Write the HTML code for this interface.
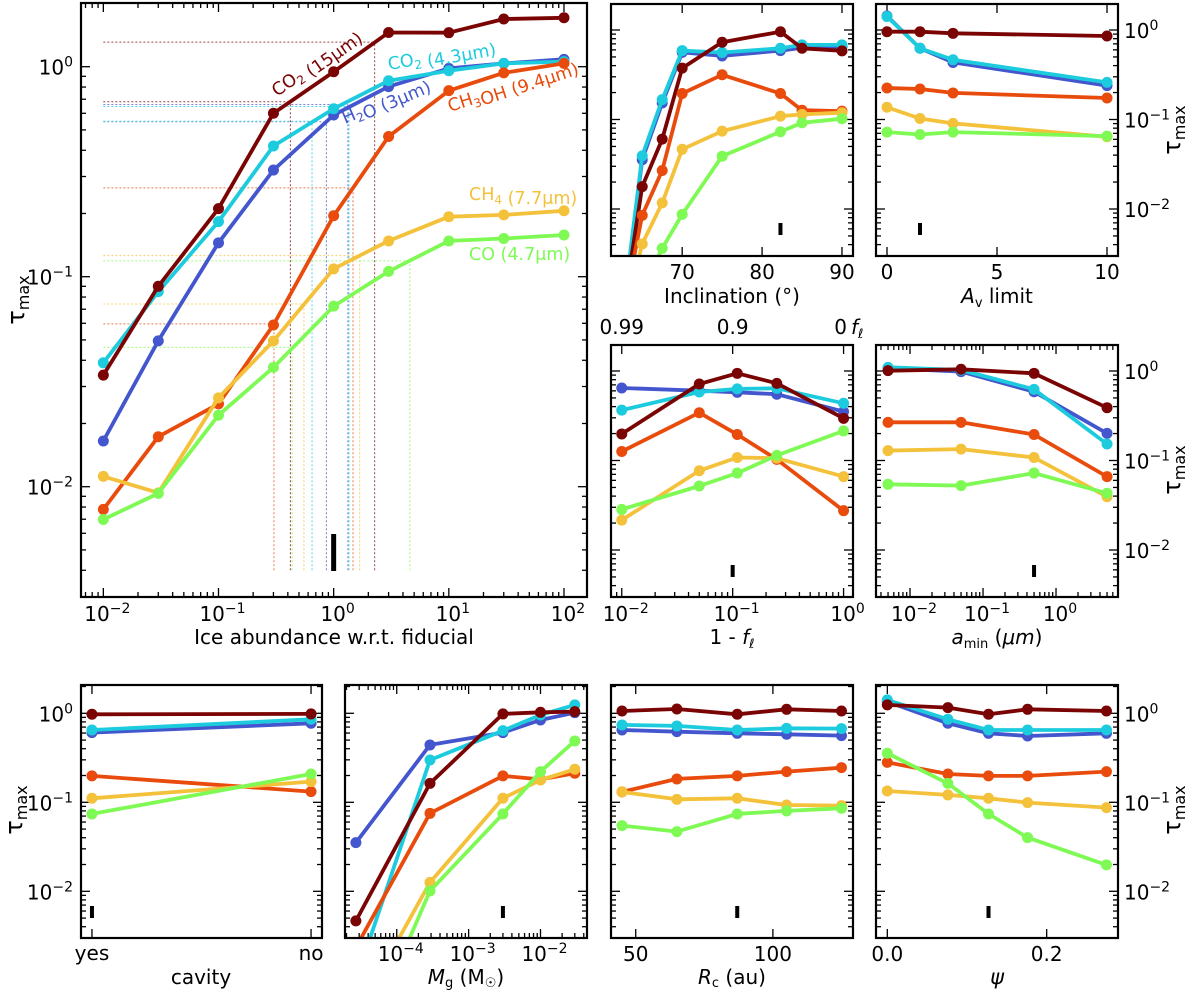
<!DOCTYPE html>
<html><head><meta charset="utf-8"><style>
html,body{margin:0;padding:0;background:#fff;overflow:hidden;width:1200px;height:995px}
svg{display:block;font-family:"DejaVu Sans","Liberation Sans",sans-serif;overflow:hidden}
</style></head><body>
<svg id="fig" width="1200" height="995" viewBox="0 0 1200 995" xmlns="http://www.w3.org/2000/svg"><defs id="defs"></defs></svg>
<script>
// ---------- data ----------
const speciesNames = ['H2O','CO2_4.3','CO2_15','CH3OH','CH4','CO'];
const speciesColors = ['#4356cd','#1ccbdd','#7a0403','#e84b0c','#f4c13b','#7ffa55'];

const mainX = [0.01,0.03,0.1,0.3,1,3,10,30,100];
const mainH2O = [0.0165,0.0495,0.145,0.322,0.589,0.804,0.982,1.037,1.084];
const mainCO2a = [0.0389,0.0849,0.183,0.419,0.631,0.857,0.957,1.037,1.057];
const mainCO2b = [0.034,0.090,0.211,0.600,0.946,1.455,1.452,1.687,1.710];
const mainCH3OH = [0.0078,0.0173,0.0248,0.0589,0.195,0.465,0.769,0.935,1.037];
const mainCH4 = [0.0112,0.00935,0.0265,0.0494,0.109,0.148,0.193,0.197,0.206];
const mainCO = [0.00698,0.00929,0.0219,0.037,0.0724,0.106,0.148,0.152,0.158];
const guideLowX = [0.865,0.649,0.421,0.303,0.552,0.435];
const guideLowTau = [0.547,0.55,0.681,0.0596,0.0741,0.0461];
const guideHighX = [1.33,1.358,2.27,1.472,1.683,4.59];
const guideHighTau = [0.661,0.646,1.309,0.265,0.126,0.119];

const inclX = [62.5,65,67.5,70,75,82.3,85,90];
const inclH2O = [0.00063,0.0355,0.153,0.562,0.513,0.589,0.631,0.646];
const inclCO2a = [0.00063,0.0392,0.167,0.589,0.56,0.625,0.681,0.681];
const inclCO2b = [0.00063,0.0178,0.0603,0.375,0.73,0.957,0.625,0.585];
const inclCH3OH = [0.00063,0.0085,0.0269,0.195,0.316,0.195,0.127,0.124];
const inclCH4 = [0.0005,0.00407,0.0117,0.0465,0.0741,0.109,0.114,0.119];
const inclCO = [0.0001,0.00126,0.00363,0.0087,0.0389,0.073,0.0918,0.102];

const avX = [0,1.5,3,10];
const avH2O = [1.432,0.625,0.434,0.239];
const avCO2a = [1.413,0.625,0.465,0.26];
const avCO2b = [0.957,0.957,0.918,0.857];
const avCH3OH = [0.225,0.219,0.198,0.174];
const avCH4 = [0.137,0.1026,0.0904,0.0641];
const avCO = [0.0723,0.068,0.0723,0.0653];

const flX = [0.01,0.05,0.11,0.25,1];
const flH2O = [0.646,0.603,0.578,0.55,0.352];
const flCO2a = [0.366,0.582,0.631,0.64,0.436];
const flCO2b = [0.198,0.716,0.942,0.728,0.296];
const flCH3OH = [0.126,0.342,0.195,0.103,0.0275];
const flCH4 = [0.0216,0.0769,0.108,0.106,0.0661];
const flCO = [0.0284,0.0519,0.0724,0.114,0.214];

const aminX = [0.005,0.05,0.5,5];
const aminH2O = [1.072,0.984,0.587,0.201];
const aminCO2a = [1.099,1.026,0.624,0.153];
const aminCO2b = [1.009,1.045,0.942,0.389];
const aminCH3OH = [0.267,0.267,0.195,0.0661];
const aminCH4 = [0.129,0.134,0.108,0.0394];
const aminCO = [0.0542,0.0524,0.0724,0.043];

const cavX = [0,1];
const cavLabels = ['yes','no'];
const cavH2O = [0.607,0.773];
const cavCO2a = [0.65,0.857];
const cavCO2b = [0.975,0.984];
const cavCH3OH = [0.198,0.132];
const cavCH4 = [0.111,0.171];
const cavCO = [0.074,0.208];

const mgX = [2.7e-5,2.9e-4,3e-3,0.01,0.03];
const mgH2O = [0.0352,0.441,0.607,0.841,1.016];
const mgCO2a = [0.001,0.299,0.638,0.957,1.242];
const mgCO2b = [0.00465,0.163,0.984,1.026,1.045];
const mgCH3OH = [0.00234,0.0752,0.198,0.181,0.212];
const mgCH4 = [0.0004,0.0126,0.111,0.178,0.235];
const mgCO = [0.000117,0.0101,0.074,0.221,0.489];

const rcX = [45,65,87,105,125];
const rcH2O = [0.65,0.622,0.596,0.581,0.561];
const rcCO2a = [0.74,0.721,0.65,0.678,0.673];
const rcCO2b = [1.062,1.119,0.975,1.109,1.062];
const rcCH3OH = [0.131,0.183,0.198,0.221,0.245];
const rcCH4 = [0.131,0.108,0.111,0.0933,0.0918];
const rcCO = [0.0547,0.0468,0.074,0.08,0.0857];

const psiX = [0,0.076,0.127,0.176,0.275];
const psiH2O = [1.352,0.773,0.596,0.556,0.596];
const psiCO2a = [1.413,0.857,0.65,0.65,0.65];
const psiCO2b = [1.242,1.159,0.975,1.109,1.062];
const psiCH3OH = [0.281,0.208,0.198,0.198,0.221];
const psiCH4 = [0.134,0.121,0.111,0.0991,0.0871];
const psiCO = [0.356,0.163,0.074,0.0401,0.0198];

const fiducial = {main:1, incl:82.3, av:1.5, fl:0.1, amin:0.5, cav:0, mg:3e-3, rc:87, psi:0.127};

// ---------- helpers ----------
const NS='http://www.w3.org/2000/svg';
const svg=document.getElementById('fig');
const defs=document.getElementById('defs');
const TFS=20, SFS=14, AFS=20;
function mk(tag, attrs, parent){
  const e=document.createElementNS(NS,tag);
  for(const k in attrs) e.setAttribute(k,attrs[k]);
  (parent||svg).appendChild(e);
  return e;
}
function supText(parent,x,y,base,exp,anchor,fs,name){
  const t=mk('text',{x:x,y:y,'text-anchor':anchor||'middle','font-size':fs||TFS,fill:'#000'},parent);
  
  
  t.appendChild(document.createTextNode(base));
  const s=mk('tspan',{dy:-8,'font-size':SFS},t);
  s.textContent=exp;
  return t;
}
function plainText(parent,x,y,str,anchor,fs,name){
  const t=mk('text',{x:x,y:y,'text-anchor':anchor||'middle','font-size':fs||TFS,fill:'#000'},parent);
  
  
  t.textContent=str;
  return t;
}
function tauLabel(x,y,name){
  const t=mk('text',{x:0,y:0,'text-anchor':'middle','font-size':24,fill:'#000',transform:'translate('+x+','+y+') rotate(-90)'});
  
  
  t.appendChild(document.createTextNode('τ'));
  const s=mk('tspan',{dy:5,'font-size':16},t);
  s.textContent='max';
}
let clipId=0;
function makePanel(p){
  p.g=mk('g',{});
  
  
  p.sx = v => p.xlog ? p.L+(Math.log10(v)-p.xmin)/(p.xmax-p.xmin)*(p.R-p.L) : p.L+(v-p.xmin)/(p.xmax-p.xmin)*(p.R-p.L);
  p.sy = v => p.y0 - Math.log10(v)*p.dec;
  const cp=mk('clipPath',{id:'cp'+(++clipId)},defs);
  mk('rect',{x:p.L,y:p.T,width:p.R-p.L,height:p.B-p.T},cp);
  p.clip='url(#cp'+clipId+')';
  const tg=mk('g',{stroke:'#000','stroke-width':1.3},p.g);
  
  
  for(let d=-5; d<=1; d++){
    for(let m=1;m<=9;m++){
      const y=p.sy(m*Math.pow(10,d));
      if(y<=p.T+1||y>=p.B-1) continue;
      const len=m===1?9:5;
      mk('line',{x1:p.L,x2:p.L+len,y1:y,y2:y},tg);
      mk('line',{x1:p.R,x2:p.R-len,y1:y,y2:y},tg);
    }
  }
  const xt=[];
  if(p.xlog){
    for(let d=Math.floor(p.xmin)-1; d<=Math.ceil(p.xmax); d++){
      for(let m=1;m<=9;m++){
        const v=m*Math.pow(10,d);
        const lv=Math.log10(v);
        if(lv<=p.xmin||lv>=p.xmax) continue;
        xt.push([p.sx(v), m===1?9:5]);
      }
    }
  } else {
    p.xticks.forEach(v=>xt.push([p.sx(v),9]));
  }
  xt.forEach(([x,len])=>{
    mk('line',{x1:x,x2:x,y1:p.B,y2:p.B-len},tg);
    if(!p.topTicks) mk('line',{x1:x,x2:x,y1:p.T,y2:p.T+len},tg);
  });
  if(p.topTicks){
    p.topTicks.forEach(v=>{ const x=p.sx(v); mk('line',{x1:x,x2:x,y1:p.T,y2:p.T+9},tg); });
  }
  return p;
}
function frame(p){
  const r=mk('rect',{x:p.L,y:p.T,width:p.R-p.L,height:p.B-p.T,fill:'none',stroke:'#000','stroke-width':2.2},p.g);
  
  
}
// clip polyline points to the panel's vertical range
function clipPts(p,pts){
  const out=[];
  for(let i=0;i<pts.length-1;i++){
    let [x1,y1]=pts[i], [x2,y2]=pts[i+1];
    const lo=p.T, hi=p.B;
    if((y1>hi&&y2>hi)||(y1<lo&&y2<lo)) continue;
    const cut=(xa,ya,xb,yb,yc)=>[xa+(xb-xa)*(yc-ya)/(yb-ya),yc];
    if(y1>hi) [x1,y1]=cut(x1,y1,x2,y2,hi);
    if(y2>hi) [x2,y2]=cut(x1,y1,x2,y2,hi);
    if(y1<lo) [x1,y1]=cut(x1,y1,x2,y2,lo);
    if(y2<lo) [x2,y2]=cut(x1,y1,x2,y2,lo);
    const last=out[out.length-1];
    if(!last||Math.abs(last[0]-x1)>0.01||Math.abs(last[1]-y1)>0.01) out.push([x1,y1]);
    out.push([x2,y2]);
  }
  return out;
}
function series(p,xs,ys,ci){
  const g=mk('g',{'clip-path':p.clip},p.g);
  
  
  const raw=xs.map((x,i)=>[p.sx(x),p.sy(ys[i])]);
  const pts=clipPts(p,raw).map(q=>q[0].toFixed(1)+','+q[1].toFixed(1)).join(' ');
  const pl=mk('polyline',{points:pts,fill:'none',stroke:speciesColors[ci],'stroke-width':3.8,'stroke-linejoin':'round'},g);
  
  
  xs.forEach((x,i)=>{
    const cy=p.sy(ys[i]);
    if(cy>p.B+6||cy<p.T-6) return;
    const c=mk('circle',{cx:p.sx(x),cy:cy,r:5.5,fill:speciesColors[ci]},g);
    
    
  });
}
function fidMark(p,v,top,bot,w){
  const x=p.sx(v);
  const r=mk('rect',{x:x-(w||4)/2,y:p.B-top,width:w||4,height:top-bot,fill:'#000'},p.g);
  
  
}
function yLabelsLog(p,x,anchor){
  [0,-1,-2].forEach(e=>{
    supText(p.g,x,p.sy(Math.pow(10,e))+8,'10',e===0?'0':'−'+(-e),anchor,TFS,p.name+'-ytick-label');
  });
}
function xLabelsLog(p,y,exps){
  exps.forEach(e=>{
    supText(p.g,p.sx(Math.pow(10,e))+4,y,'10',e===0?'0':(e<0?'−'+(-e):String(e)),'middle',TFS,p.name+'-xtick-label');
  });
}
function xLabelsLin(p,y,vals,labs){
  vals.forEach((v,i)=>plainText(p.g,p.sx(v),y,labs[i],'middle',TFS,p.name+'-xtick-label'));
}
function allSeries(p,xs,arrs){ arrs.forEach((a,i)=>series(p,xs,a,i)); }

// ---------- main panel ----------
const main=makePanel({name:'main-panel',L:81,R:587,T:3,B:597,xlog:true,xmin:-2.194,xmax:2.2,y0:66.7,dec:210});
const gg=mk('g',{'stroke-width':1,'stroke-dasharray':'2,2',opacity:0.75,fill:'none','clip-path':main.clip},main.g);


[[guideLowX,guideLowTau],[guideHighX,guideHighTau]].forEach(([gx,gt])=>{
  gx.forEach((xv,i)=>{
    const h=mk('line',{x1:main.sx(0.01),x2:main.sx(xv),y1:main.sy(gt[i]),y2:main.sy(gt[i]),stroke:speciesColors[i]},gg);
    
    
    const v=mk('line',{x1:main.sx(xv),x2:main.sx(xv),y1:main.sy(0.004),y2:main.sy(gt[i]),stroke:speciesColors[i]},gg);
    
    
  });
});
allSeries(main,mainX,[mainH2O,mainCO2a,mainCO2b,mainCH3OH,mainCH4,mainCO]);
fidMark(main,fiducial.main,63,26,5);
frame(main);
yLabelsLog(main,73,'end');
xLabelsLog(main,621,[-2,-1,0,1,2]);
plainText(main.g,334,644,'Ice abundance w.r.t. fiducial','middle',AFS,'main-x-axis-title');
tauLabel(24,300,'main-y-axis-title');
function specLabel(x,y,rot,col,parts,name){
  const t=mk('text',{x:0,y:0,'font-size':17.5,fill:col,transform:'translate('+x+','+y+') rotate('+rot+')'},main.g);
  
  
  parts.forEach(([s,sub])=>{
    const ts=mk('tspan',sub?{'font-size':12,dy:4}:{dy:0},t);
    ts.textContent=s;
    if(sub){ const r=mk('tspan',{dy:-4},t); r.textContent=''; }
  });
}
specLabel(277,97,-35,speciesColors[2],[['CO'],['2',1],[' (15μm)']],'label-co2-15');
specLabel(389,70,-10,speciesColors[1],[['CO'],['2',1],[' (4.3μm)']],'label-co2-43');
specLabel(345,124,-23,speciesColors[0],[['H'],['2',1],['O (3μm)']],'label-h2o');
specLabel(450,112,-18,speciesColors[3],[['CH'],['3',1],['OH (9.4μm)']],'label-ch3oh');
specLabel(469,200,0,speciesColors[4],[['CH'],['4',1],[' (7.7μm)']],'label-ch4');
specLabel(469,260,0,speciesColors[5],[['CO (4.7μm)']],'label-co');

// ---------- inclination ----------
const incl=makePanel({name:'inclination-panel',L:611,R:853,T:4,B:256,xlog:false,xmin:61.09,xmax:91.38,y0:30,dec:89.5,xticks:[70,80,90]});
allSeries(incl,inclX,[inclH2O,inclCO2a,inclCO2b,inclCH3OH,inclCH4,inclCO]);
fidMark(incl,fiducial.incl,33,21);
frame(incl);
xLabelsLin(incl,279,[70,80,90],['70','80','90']);
plainText(incl.g,732,303,'Inclination (°)','middle',AFS,'inclination-x-axis-title');

// ---------- Av ----------
const av=makePanel({name:'av-panel',L:876,R:1118,T:4,B:256,xlog:false,xmin:-0.5,xmax:10.5,y0:30,dec:89.5,xticks:[0,5,10]});
allSeries(av,avX,[avH2O,avCO2a,avCO2b,avCH3OH,avCH4,avCO]);
fidMark(av,fiducial.av,33,21);
frame(av);
xLabelsLin(av,279,[0,5,10],['0','5','10']);
yLabelsLog(av,1124,'start');
(function(){const t=mk('text',{x:997,y:303,'text-anchor':'middle','font-size':AFS},av.g);


const a=mk('tspan',{'font-style':'italic'},t); a.textContent='A';
const b=mk('tspan',{'font-size':13,dy:4},t); b.textContent='v';
const c=mk('tspan',{dy:-4},t); c.textContent=' limit';})();
tauLabel(1180,130,'av-y-axis-title');

// ---------- f_l ----------
const fl=makePanel({name:'fl-panel',L:611,R:853,T:345,B:597,xlog:true,xmin:-2.097,xmax:0.085,y0:371,dec:89.5,topTicks:[0.01,0.1,1]});
allSeries(fl,flX,[flH2O,flCO2a,flCO2b,flCH3OH,flCH4,flCO]);
fidMark(fl,fiducial.fl,32,20);
frame(fl);
xLabelsLog(fl,621,[-2,-1,0]);
plainText(fl.g,fl.sx(0.01),334,'0.99','middle',TFS,'fl-top-tick-label');
plainText(fl.g,fl.sx(0.1),334,'0.9','middle',TFS,'fl-top-tick-label');
plainText(fl.g,fl.sx(1)-3,334,'0','middle',TFS,'fl-top-tick-label');
(function(){const t=mk('text',{x:851,y:334,'font-size':AFS,'font-style':'italic'},fl.g);


t.appendChild(document.createTextNode('f'));
const s=mk('tspan',{'font-size':13,dy:4},t); s.textContent='ℓ';})();
(function(){const t=mk('text',{x:732,y:644,'text-anchor':'middle','font-size':AFS},fl.g);


t.appendChild(document.createTextNode('1 - '));
const a=mk('tspan',{'font-style':'italic'},t); a.textContent='f';
const b=mk('tspan',{'font-size':13,dy:4,'font-style':'italic'},t); b.textContent='ℓ';})();

// ---------- a_min ----------
const amin=makePanel({name:'amin-panel',L:876,R:1118,T:345,B:597,xlog:true,xmin:-2.466,xmax:0.849,y0:371,dec:89.5});
allSeries(amin,aminX,[aminH2O,aminCO2a,aminCO2b,aminCH3OH,aminCH4,aminCO]);
fidMark(amin,fiducial.amin,32,20);
frame(amin);
xLabelsLog(amin,621,[-2,-1,0]);
yLabelsLog(amin,1124,'start');
(function(){const t=mk('text',{x:997,y:644,'text-anchor':'middle','font-size':AFS},amin.g);


const a=mk('tspan',{'font-style':'italic'},t); a.textContent='a';
const b=mk('tspan',{'font-size':13,dy:4},t); b.textContent='min';
const c=mk('tspan',{dy:-4},t); c.textContent=' (';
const d=mk('tspan',{'font-style':'italic'},t); d.textContent='μm';
const e=mk('tspan',{},t); e.textContent=')';})();
tauLabel(1180,470,'amin-y-axis-title');

// ---------- cavity ----------
const cav=makePanel({name:'cavity-panel',L:81,R:322,T:685,B:938,xlog:false,xmin:-0.05,xmax:1.05,y0:713.3,dec:89,xticks:[0,1]});
allSeries(cav,cavX,[cavH2O,cavCO2a,cavCO2b,cavCH3OH,cavCH4,cavCO]);
fidMark(cav,fiducial.cav,32,20);
frame(cav);
xLabelsLin(cav,960,cavX,cavLabels);
yLabelsLog(cav,73,'end');
plainText(cav.g,201,984,'cavity','middle',AFS,'cavity-x-axis-title');
tauLabel(22,810,'cavity-y-axis-title');

// ---------- Mg ----------
const mg=makePanel({name:'mg-panel',L:345,R:587,T:685,B:938,xlog:true,xmin:-4.72,xmax:-1.353,y0:713.3,dec:89});
allSeries(mg,mgX,[mgH2O,mgCO2a,mgCO2b,mgCH3OH,mgCH4,mgCO]);
fidMark(mg,fiducial.mg,32,20);
frame(mg);
xLabelsLog(mg,961,[-4,-3,-2]);
(function(){const t=mk('text',{x:466,y:984,'text-anchor':'middle','font-size':AFS},mg.g);


const a=mk('tspan',{'font-style':'italic'},t); a.textContent='M';
const b=mk('tspan',{'font-size':13,dy:3},t); b.textContent='g';
const c=mk('tspan',{dy:-3},t); c.textContent=' (M';
const d=mk('tspan',{'font-size':13,dy:3},t); d.textContent='☉';
const e=mk('tspan',{dy:-3},t); e.textContent=')';})();

// ---------- Rc ----------
const rc=makePanel({name:'rc-panel',L:611,R:853,T:685,B:938,xlog:false,xmin:40.99,xmax:129.2,y0:713.3,dec:89,xticks:[50,100]});
allSeries(rc,rcX,[rcH2O,rcCO2a,rcCO2b,rcCH3OH,rcCH4,rcCO]);
fidMark(rc,fiducial.rc,32,20);
frame(rc);
xLabelsLin(rc,961,[50,100],['50','100']);
(function(){const t=mk('text',{x:732,y:984,'text-anchor':'middle','font-size':AFS},rc.g);


const a=mk('tspan',{'font-style':'italic'},t); a.textContent='R';
const b=mk('tspan',{'font-size':13,dy:3},t); b.textContent='c';
const c=mk('tspan',{dy:-3},t); c.textContent=' (au)';})();

// ---------- psi ----------
const psi=makePanel({name:'psi-panel',L:876,R:1118,T:685,B:938,xlog:false,xmin:-0.0142,xmax:0.2895,y0:713.3,dec:89,xticks:[0,0.2]});
allSeries(psi,psiX,[psiH2O,psiCO2a,psiCO2b,psiCH3OH,psiCH4,psiCO]);
fidMark(psi,fiducial.psi,32,20);
frame(psi);
xLabelsLin(psi,961,[0,0.2],['0.0','0.2']);
yLabelsLog(psi,1124,'start');
(function(){const t=mk('text',{x:997,y:984,'text-anchor':'middle','font-size':21,'font-style':'italic'},psi.g);


t.textContent='ψ';})();
tauLabel(1180,810,'psi-y-axis-title');
</script>
</body></html>
